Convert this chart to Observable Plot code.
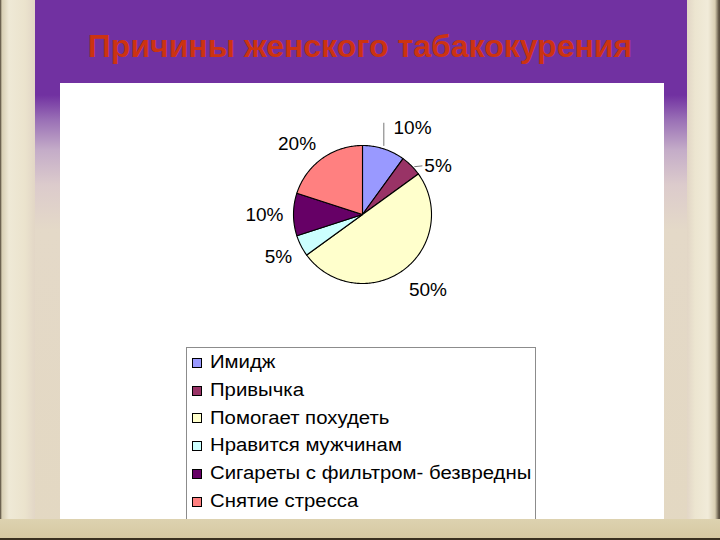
<!DOCTYPE html>
<html><head><meta charset="utf-8">
<script src="https://cdn.jsdelivr.net/npm/d3@7"></script>
<script src="https://cdn.jsdelivr.net/npm/@observablehq/plot@0.6"></script>
<style>
body{margin:0;}
#slide{position:relative;width:720px;height:540px;overflow:hidden;font-family:"Liberation Sans",Arial,sans-serif;
 background:linear-gradient(to right,#4a4030 0,#d8cfb4 2px,#efe9d6 9px,#ebe3cd 25px,#e2d6c6 35px,#e2d6c6 687px,#ece5d0 695px,#f1ebd9 708px,#d9cfb3 715px,#5a5040 719px);}
#band{position:absolute;left:35px;top:0;width:652px;height:540px;
 background:linear-gradient(to bottom,#7131a1 0,#7131a1 95px,#9a70b6 120px,#c4acc8 150px,#dccbcc 185px,#e4d9c8 230px,#e3d8c2 100%);}
#title{position:absolute;left:0;top:30px;width:720px;text-align:center;font:bold 32px/32px "Liberation Sans",Arial,sans-serif;color:#cc3311;white-space:nowrap;}
#panel{position:absolute;left:60px;top:83px;width:604px;height:436px;background:#fff;overflow:hidden;}
#bottom{position:absolute;left:0;top:519px;width:720px;height:19px;background:linear-gradient(to bottom,#ddd2b0,#d6c9a2);border-bottom:2px solid #3a3020;}
#legend{position:absolute;left:126px;top:264px;width:350px;height:220px;border:1px solid #8c8c8c;padding-top:1px;box-sizing:border-box;}
.row{height:27.8px;line-height:27.8px;font-size:18px;color:#000;white-space:nowrap;display:flex;align-items:center;}
.sw{width:8px;height:8px;border:1px solid #000;margin-left:5px;margin-right:8px;flex:none;}
.lt{display:inline-block;transform:scaleX(1.13);transform-origin:0 50%;}
#chart{position:absolute;left:0;top:0;}
</style></head>
<body>
<div id="slide">
 <div id="band"></div>
 <div id="title">Причины женского табакокурения</div>
 <div id="bottom"></div>
 <div id="panel"><div id="chart"></div><div id="legend"></div></div>
</div>
<script>
const categories = ["Имидж","Привычка","Помогает похудеть","Нравится мужчинам","Сигареты с фильтром- безвредны","Снятие стресса"];
const values = [10,5,50,5,10,20];
const labels = ["10%","5%","50%","5%","10%","20%"];
const colors = ["#9999FF","#993366","#FFFFCC","#CCFFFF","#660066","#FF8080"];

const R = 69, fs = 19;
const total = d3.sum(values);
const pts = [], lab = [], lead = [];
let acc = 0;
const clamp = v => Math.max(-1, Math.min(1, v));
// label nudges (pixels) for labels Excel moved off to avoid overlap
const nudge = {0:[8,-5], 1:[6,14], 2:[0,5]};
const leaders = {0:"vertical", 1:"side"};
values.forEach((v,i) => {
  const a0 = acc/total*2*Math.PI, a1 = (acc+v)/total*2*Math.PI;
  acc += v;
  pts.push({cat:categories[i], x:0, y:0});
  const n = Math.max(2, Math.ceil((a1-a0)/(Math.PI/180)));
  for (let k=0;k<=n;k++){ const a=a0+(a1-a0)*k/n; pts.push({cat:categories[i], x:R*Math.sin(a), y:R*Math.cos(a)}); }
  pts.push({cat:categories[i], x:0, y:0});
  const am = (a0+a1)/2, s = Math.sin(am), c = Math.cos(am);
  const w = fs*(0.556*(labels[i].length-1)+0.889), h = fs*0.716;
  let lx = (R+10)*s + w/2*clamp(3*s), ly = (R+10)*c + h/2*clamp(3*c);
  const nd = nudge[i];
  if (nd){ lx += nd[0]; ly -= nd[1]; }
  if (leaders[i]==="vertical") lead.push({x1:R*s, y1:R*c+3, x2:R*s, y2:ly+h/2-2});
  else if (leaders[i]==="side") lead.push({x1:R*s+3, y1:R*c-1, x2:lx-w/2-2, y2:ly});
  lab.push({x:lx, y:ly, text:labels[i]});
});

const chart = Plot.plot({
  width:604, height:260, margin:0,
  x:{domain:[-302,302], axis:null},
  y:{domain:[-129,131], axis:null},
  color:{domain:categories, range:colors},
  style:{background:"transparent"},
  marks:[
    Plot.line(pts, {x:"x", y:"y", z:"cat", fill:"cat", stroke:"#000", strokeWidth:1.1, strokeLinejoin:"round"}),
    Plot.link(lead, {x1:"x1", y1:"y1", x2:"x2", y2:"y2", stroke:"#777", strokeWidth:1}),
    Plot.text(lab, {x:"x", y:"y", text:"text", fontSize:fs, fill:"#000", fontFamily:"Liberation Sans, Arial, sans-serif", textAnchor:"middle", lineAnchor:"middle"})
  ]
});
document.getElementById("chart").appendChild(chart);

const leg = document.getElementById("legend");
categories.forEach((c,i) => {
  const r = document.createElement("div"); r.className="row";
  const sw = document.createElement("span"); sw.className="sw"; sw.style.background = colors[i];
  const t = document.createElement("span"); t.className="lt"; t.textContent = c;
  r.appendChild(sw); r.appendChild(t); leg.appendChild(r);
});
</script>
</body></html>
